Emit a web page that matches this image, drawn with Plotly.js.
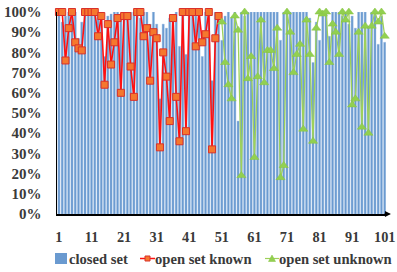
<!DOCTYPE html>
<html><head><meta charset="utf-8">
<script src="https://cdn.plot.ly/plotly-3.0.1.min.js"></script>
<style>html,body{margin:0;padding:0;background:#fff}</style>
</head><body><div id="chart" style="width:397px;height:272px"></div>
<script>
const categories = Array.from({length:101},(_,i)=>i+1);
const closedSet = [100,95,98,100,100,100,87,95,100,100,100,100,98,100,78,98,99,100,100,96,
100,100,100,100,100,97,100,100,94,100,94,57,94,92,97,98,100,83,100,79,
100,98,98,100,78,100,100,66,100,98,86,98,100,97,100,46,100,98,100,100,
100,100,100,100,100,100,100,100,86,100,100,100,100,100,100,100,100,97,75,95,
86,100,100,88,100,100,100,98,100,94,98,92,100,100,100,93,100,100,84,98,85];
const knownX = Array.from({length:50},(_,i)=>i+1);
const openKnown = [100,100,76,92,100,85,82,81,100,100,100,100,88,98,64,94,74,85,97,60,
98,98,73,58,100,100,88,92,66,90,87,33,80,68,46,97,58,36,100,41,
100,100,83,100,85,89,100,32,87,98];
const unknownX = Array.from({length:51},(_,i)=>i+51);
const openUnknown = [95,75,64,57,98,91,19,100,67,78,28,68,96,65,81,81,72,92,18,24,
100,90,70,79,84,42,96,79,36,92,100,99,100,75,94,90,79,100,96,100,
54,57,90,43,93,40,93,100,95,100,88];
const tickVals = [1,11,21,31,41,51,61,71,81,91,101];
const yTicks = [0,10,20,30,40,50,60,70,80,90,100];
const seriesNames = ['closed set','open set known','open set unknown'];

const FAM = 'Liberation Serif';
const TXT = '#3A3A3A';
const f = (s)=>({family:FAM, size:s, color:TXT, weight:700});
const C = {bar:'#6A9AD0', barEdge:'#9DBDE3', red:'#FF1010', redFill:'#F5782E', redEdge:'#D9302A',
           green:'#9ED15A', greenFill:'#92D050'};
const traces = [
  {type:'bar', x:categories, y:closedSet, name:seriesNames[0],
   marker:{color:C.bar, line:{color:C.barEdge, width:0.4}}},
  {type:'scatter', mode:'lines+markers', x:knownX, y:openKnown, name:seriesNames[1],
   line:{color:C.red, width:1.6},
   marker:{symbol:'square', size:7, color:C.redFill, line:{color:C.redEdge, width:1}}, cliponaxis:false},
  {type:'scatter', mode:'lines+markers', x:unknownX, y:openUnknown, name:seriesNames[2],
   line:{color:C.green, width:1.3},
   marker:{symbol:'triangle-up', size:8, color:C.greenFill, line:{color:'#86C340', width:0.5}}, cliponaxis:false}
];

// legend drawn in pixel positions converted to paper units
const L=57, T=12, W=329, H=202;
const px=(x)=>(x-L)/W, py=(y)=>(T+H-y)/H;
const LY=258.5;
const shapes = [
  {type:'rect', xref:'paper', yref:'paper', x0:px(55), x1:px(67), y0:py(264), y1:py(253),
   fillcolor:C.bar, line:{width:0}},
  {type:'line', xref:'paper', yref:'paper', x0:px(140), x1:px(155), y0:py(LY), y1:py(LY),
   line:{color:C.red, width:1.5}},
  {type:'rect', xref:'paper', yref:'paper', x0:px(145), x1:px(150), y0:py(LY+2.5), y1:py(LY-2.5),
   fillcolor:C.redFill, line:{color:C.redEdge, width:1}},
  {type:'line', xref:'paper', yref:'paper', x0:px(265), x1:px(279), y0:py(LY), y1:py(LY),
   line:{color:C.green, width:1.2}},
  {type:'path', xref:'paper', yref:'paper',
   path:`M${px(268.5)},${py(LY+3)} L${px(275.5)},${py(LY+3)} L${px(272)},${py(LY-3.5)} Z`,
   fillcolor:C.greenFill, line:{color:'#86C340', width:0.5}}
];
const legText = (x,t)=>({xref:'paper', yref:'paper', x:px(x), y:py(LY), xanchor:'left', yanchor:'middle',
   text:t, showarrow:false, font:f(14.6), borderpad:0});
const annotations = [
  legText(67.5, seriesNames[0]), legText(154, seriesNames[1]), legText(278, seriesNames[2]),
  {xref:'paper', yref:'paper', x:1.015, y:0, ax:-8, ay:0, showarrow:true,
   arrowhead:2, arrowsize:1, arrowwidth:1.2, arrowcolor:'#000', text:''}
];
const layout = {
  width:397, height:272,
  margin:{l:L, r:397-L-W, t:T, b:272-T-H, autoexpand:false},
  paper_bgcolor:'#fff', plot_bgcolor:'#fff',
  font:f(14),
  bargap:0.35,
  showlegend:false,
  xaxis:{range:[0.4,101.4], tickmode:'array', tickvals:tickVals, ticktext:tickVals.map(String),
         showgrid:false, zeroline:false, showline:true, linecolor:'#000', linewidth:1.5,
         ticks:'', ticklen:0, ticklabelstandoff:9, tickfont:f(14.3), automargin:false},
  yaxis:{range:[0,100], tickmode:'array', tickvals:yTicks, ticktext:yTicks.map(v=>v+'%'),
         showgrid:false, zeroline:false, showline:true, linecolor:'#000', linewidth:1.5,
         ticks:'', ticklen:0, ticklabelstandoff:11, tickfont:f(15), automargin:false},
  shapes:shapes,
  annotations:annotations
};
Plotly.newPlot('chart', traces, layout, {displayModeBar:false, staticPlot:true});
</script></body></html>
